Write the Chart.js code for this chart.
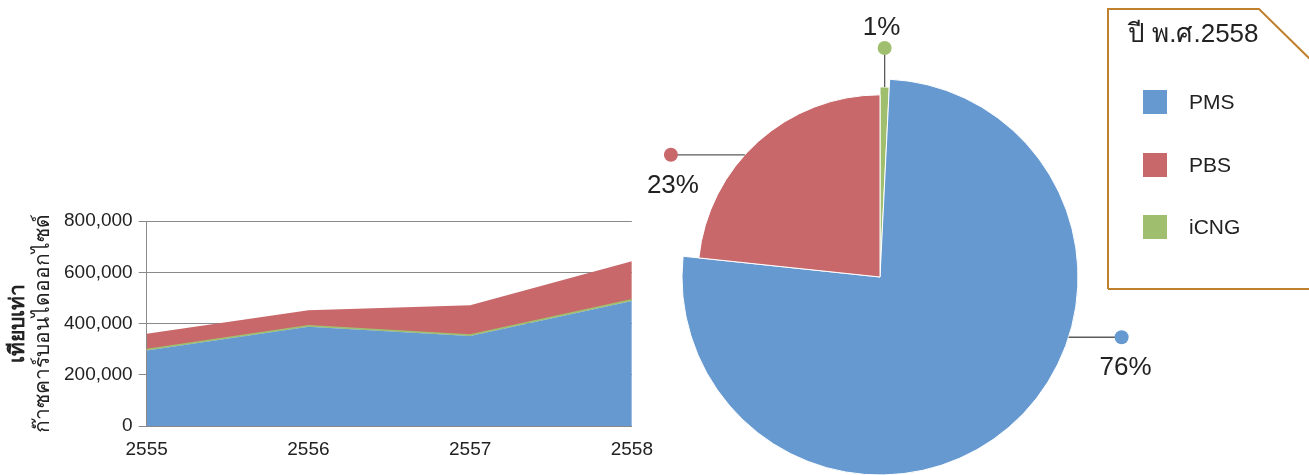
<!DOCTYPE html>
<html>
<head>
<meta charset="utf-8">
<script src="https://cdn.jsdelivr.net/npm/chart.js@4.4.0/dist/chart.umd.min.js"></script>
<style>
  body { margin: 0; width: 1309px; height: 475px; overflow: hidden; background: #fff; position: relative;
         font-family: "Liberation Sans", Arial, sans-serif; color: #222; }
  #areaWrap { position: absolute; left: 0; top: 0; width: 665px; height: 475px; }
  #pieWrap { position: absolute; left: 600px; top: 0; width: 560px; height: 554px; }
  #legend { position: absolute; left: 1107px; top: 8px; width: 210px; height: 282px; }
  #legend svg { position: absolute; left: 0; top: 0; }
  #legend .title { position: absolute; left: 21px; top: 4px; font-size: 26px; white-space: nowrap; }
  #legend .item { position: absolute; left: 36px; height: 24px; display: flex; align-items: center; font-size: 21px; }
  #legend .item span { display: inline-block; width: 24px; height: 24px; margin-right: 22px; }
</style>
</head>
<body>
<div id="areaWrap"><canvas id="areaChart"></canvas></div>
<div id="pieWrap"><canvas id="pieChart"></canvas></div>
<div id="legend">
  <svg width="210" height="282"><path d="M1 281 L1 1 L152 1 L210 58 M1 281 L210 281" fill="none" stroke="#c0812e" stroke-width="2"/></svg>
  <div class="title">ปี พ.ศ.2558</div>
</div>
<script>
const years = ['2555', '2556', '2557', '2558'];
const pms = [295000, 388000, 352000, 488000];
const cng = [4000, 4000, 4000, 5000];
const pbs = [61000, 60000, 116000, 150000];
const yTicks = [0, 200000, 400000, 600000, 800000];
const yTitle = ['เทียบเท่า', 'ก๊าซคาร์บอนไดออกไซด์'];

const blue = '#6699d0', red = '#c8686a', green = '#a0bf6e';

// legend (right box)
const legendItems = [['PMS', blue], ['PBS', red], ['iCNG', green]];
legendItems.forEach(([name, color], i) => {
  const d = document.createElement('div');
  d.className = 'item';
  d.style.top = (82 + i * 62.5) + 'px';
  d.innerHTML = '<span style="background:' + color + '"></span>' + name;
  document.getElementById('legend').appendChild(d);
});

// rotated two-line axis title
const axisTitle = {
  id: 'axisTitle',
  afterDraw(chart) {
    const { ctx, chartArea } = chart;
    ctx.save();
    ctx.translate(0, (chartArea.top + chartArea.bottom) / 2);
    ctx.rotate(-Math.PI / 2);
    ctx.textAlign = 'center';
    ctx.fillStyle = '#222';
    ctx.font = 'bold 21px "Liberation Sans", sans-serif';
    ctx.fillText(yTitle[0], 0, 24);
    ctx.font = '21px "Liberation Sans", sans-serif';
    ctx.fillText(yTitle[1], 0, 49);
    ctx.restore();
  }
};

new Chart(document.getElementById('areaChart'), {
  type: 'line',
  data: {
    labels: years,
    datasets: [
      { label: 'PMS', data: pms, backgroundColor: blue, borderColor: blue, borderWidth: 0, fill: 'origin' },
      { label: 'iCNG', data: cng, backgroundColor: green, borderColor: green, borderWidth: 1.5, fill: '-1' },
      { label: 'PBS', data: pbs, backgroundColor: red, borderColor: red, borderWidth: 0, fill: '-1' }
    ]
  },
  options: {
    responsive: true,
    maintainAspectRatio: false,
    animation: false,
    events: [],
    layout: { padding: { left: 58, top: 221, right: 0, bottom: 2 } },
    elements: { point: { radius: 0 }, line: { tension: 0 } },
    plugins: { legend: { display: false }, tooltip: { enabled: false } },
    scales: {
      x: {
        grid: { drawOnChartArea: false, drawTicks: false },
        border: { color: '#8a8a8a', width: 1 },
        ticks: { color: '#222', padding: 12, font: { size: 19, family: '"Liberation Sans", sans-serif' } }
      },
      y: {
        stacked: true,
        min: 0,
        max: 800000,
        afterBuildTicks: axis => { axis.ticks = yTicks.map(v => ({ value: v })); },
        grid: { color: '#8a8a8a', tickLength: 8 },
        border: { color: '#8a8a8a', width: 1 },
        ticks: {
          color: '#222', padding: 6,
          font: { size: 19, family: '"Liberation Sans", sans-serif' },
          callback: v => v.toLocaleString('en-US')
        }
      }
    }
  },
  plugins: [axisTitle]
});

// pie for the last year, clockwise from the top: iCNG, PMS, PBS
const last = years.length - 1;
const pieNames = ['iCNG', 'PMS', 'PBS'];
const pieValues = [cng[last], pms[last], pbs[last]];
const pieColors = [green, blue, red];
const pieScale = [0.96, 1, 0.92];
const pieNotes = [
  { frac: 0.5, dir: [0, -1], len: 39, tx: -3, ty: -13 },
  { frac: 0.384, dir: [1, 0], len: 53, tx: 4, ty: 38 },
  { frac: 0.43, dir: [-1, 0], len: 74, tx: 2, ty: 38 }
];

const pieExtras = {
  id: 'pieExtras',
  afterDatasetUpdate(chart, args) {
    args.meta.data.forEach((arc, i) => { arc.outerRadius = arc.outerRadius * pieScale[i]; });
  },
  afterDraw(chart) {
    const { ctx } = chart;
    const arcs = chart.getDatasetMeta(0).data;
    const total = pieValues.reduce((a, b) => a + b, 0);
    ctx.save();
    arcs.forEach((arc, i) => {
      const n = pieNotes[i];
      const a = arc.startAngle + (arc.endAngle - arc.startAngle) * n.frac;
      const x0 = arc.x + arc.outerRadius * Math.cos(a);
      const y0 = arc.y + arc.outerRadius * Math.sin(a);
      const x1 = x0 + n.dir[0] * n.len, y1 = y0 + n.dir[1] * n.len;
      ctx.strokeStyle = '#5a5a5a';
      ctx.lineWidth = 1.3;
      ctx.beginPath();
      ctx.moveTo(x0, y0);
      ctx.lineTo(x1, y1);
      ctx.stroke();
      ctx.fillStyle = pieColors[i];
      ctx.beginPath();
      ctx.arc(x1, y1, 7, 0, Math.PI * 2);
      ctx.fill();
      ctx.fillStyle = '#222';
      ctx.font = '26px "Liberation Sans", sans-serif';
      ctx.textAlign = 'center';
      ctx.fillText(Math.round(pieValues[i] / total * 100) + '%', x1 + n.tx, y1 + n.ty);
    });
    ctx.restore();
  }
};

new Chart(document.getElementById('pieChart'), {
  type: 'pie',
  data: {
    labels: pieNames,
    datasets: [{ data: pieValues, backgroundColor: pieColors, borderColor: '#fff', borderWidth: 1, radius: 198 }]
  },
  options: {
    responsive: true,
    maintainAspectRatio: false,
    animation: false,
    events: [],
    plugins: { legend: { display: false }, tooltip: { enabled: false } }
  },
  plugins: [pieExtras]
});
</script>
</body>
</html>
